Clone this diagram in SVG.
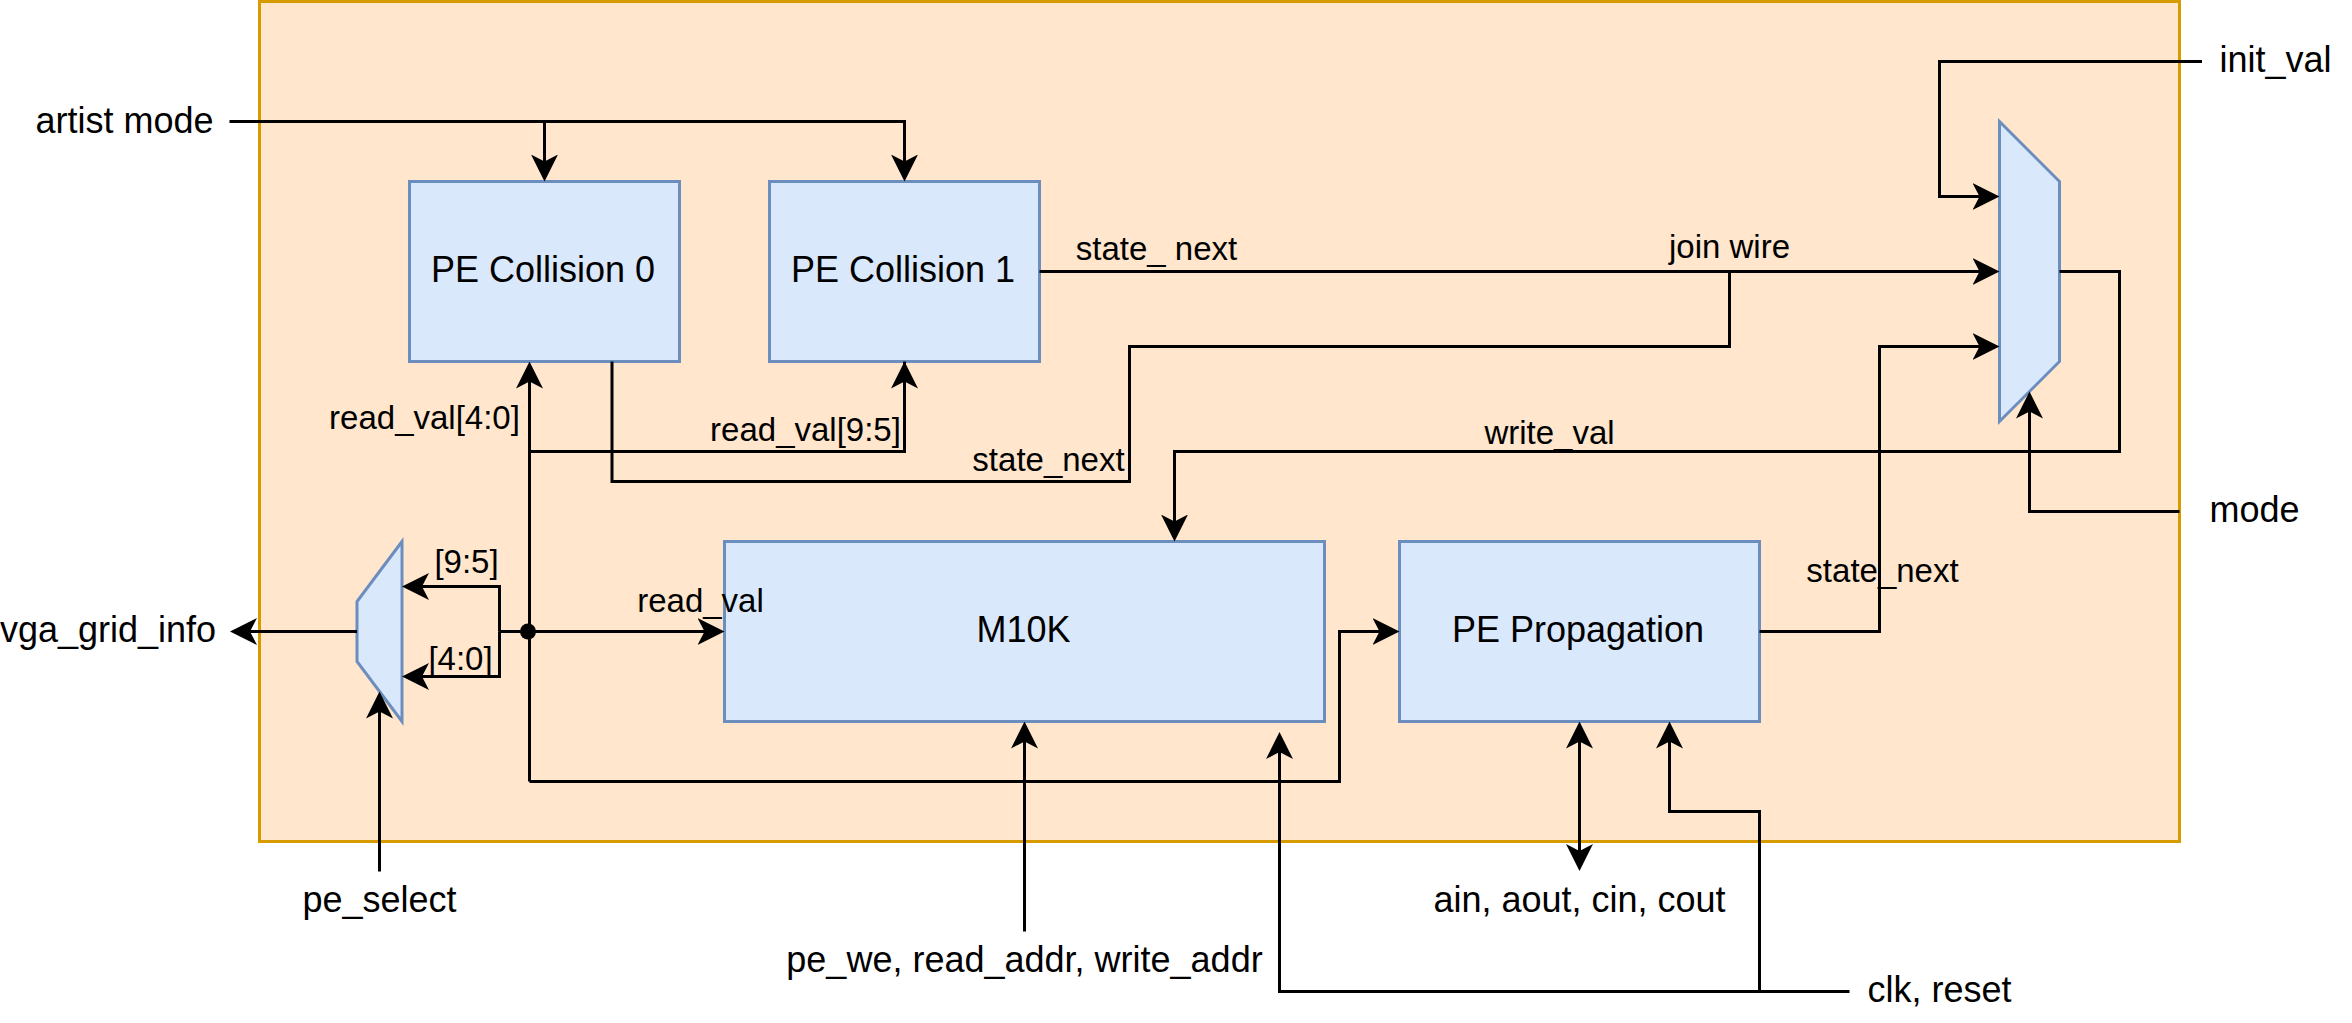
<svg xmlns="http://www.w3.org/2000/svg" width="2352" height="1023" viewBox="0 0 2352 1023">
<style>
text{font-family:"Liberation Sans",Arial,sans-serif;font-size:36px;fill:#000;text-anchor:middle}
.e{font-size:33px}
.box{fill:#dae8fc;stroke:#6c8ebf;stroke-width:3}
.w{fill:none;stroke:#000;stroke-width:3;stroke-linejoin:miter}
.a{marker-end:url(#arr)}
.b{marker-end:url(#arr);marker-start:url(#arr)}
</style>
<defs>
<marker id="arr" markerUnits="userSpaceOnUse" viewBox="0 0 27 27" markerWidth="27" markerHeight="27" refX="17" refY="13.5" orient="auto-start-reverse"><path d="M0 0L27 13.5L0 27L7 13.5Z" fill="#000"/></marker>
</defs>
<rect width="2352" height="1023" fill="#fff"/>
<g id="container"><rect x="259.5" y="1.5" width="1920" height="840" fill="#ffe6cc" stroke="#d79b00" stroke-width="3"/></g>
<g id="pe-collision-0"><rect class="box" x="409.5" y="181.5" width="270" height="180"/><text x="543" y="282">PE Collision 0</text></g>
<g id="pe-collision-1"><rect class="box" x="769.5" y="181.5" width="270" height="180"/><text x="903" y="282">PE Collision 1</text></g>
<g id="m10k"><rect class="box" x="724.5" y="541.5" width="600" height="180"/><text x="1023.5" y="642">M10K</text></g>
<g id="pe-propagation"><rect class="box" x="1399.5" y="541.5" width="360" height="180"/><text x="1578" y="642">PE Propagation</text></g>
<g id="mux-right"><polygon class="box" points="1999.5,121.5 2059.5,181.5 2059.5,361.5 1999.5,421.5"/></g>
<g id="mux-left"><polygon class="box" points="402,541.5 357,601.5 357,661.5 402,721.5"/></g>
<g id="connectors">
<path class="w a" d="M229.5 121.5H904.5V171.5"/>
<path class="w a" d="M544.5 121.5V171.5"/>
<path class="w a" d="M1039.5 271.5H1989.5"/>
<path class="w" d="M1729.5 271.5V346.5H1129.5V481.5H612V361.5"/>
<path class="w" d="M529.5 451.5H904.5V361.5"/>
<path class="w a" d="M904.5 451.5V371.5"/>
<path class="w a" d="M529.5 781.5V371.5"/>
<path class="w a" d="M499.5 631.5H714.5"/>
<path class="w a" d="M499.5 631.5V586.5H412"/>
<path class="w a" d="M499.5 631.5V676.5H412"/>
<path class="w a" d="M529.5 781.5H1339.5V631.5H1389.5"/>
<path class="w a" d="M357 631.5H240"/>
<path class="w a" d="M379.5 871.5V701.5"/>
<path class="w a" d="M1024.5 931.5V731.5"/>
<path class="w a" d="M1849.5 991.5H1279.5V742"/>
<path class="w a" d="M1759.5 991.5V811.5H1669.5V731.5"/>
<path class="w b" d="M1579.5 731.5V861"/>
<path class="w a" d="M1759.5 631.5H1879.5V346.5H1989.5"/>
<path class="w a" d="M2059.5 271.5H2119.5V451.5H1174.5V531.5"/>
<path class="w a" d="M2202 61.5H1939.5V196.5H1989.5"/>
<path class="w a" d="M2179.5 511.5H2029.5V401.5"/>
<ellipse cx="528" cy="631.5" rx="8" ry="8" fill="#000"/>
</g>
<g id="labels">
<text x="124.5" y="133">artist mode</text>
<text class="e" x="424.5" y="429">read_val[4:0]</text>
<text class="e" x="805.5" y="441">read_val[9:5]</text>
<text class="e" x="1156.5" y="260">state_ next</text>
<text class="e" x="1729.5" y="258">join wire</text>
<text class="e" x="1048.5" y="471">state_next</text>
<text class="e" x="1549.5" y="444">write_val</text>
<text class="e" x="466.5" y="573">[9:5]</text>
<text class="e" x="460.5" y="670">[4:0]</text>
<text class="e" x="700.5" y="612">read_val</text>
<text x="108" y="642">vga_grid_info</text>
<text class="e" x="1882.5" y="582">state_next</text>
<text x="379.5" y="912">pe_select</text>
<text x="1024.5" y="972">pe_we, read_addr, write_addr</text>
<text x="1579.5" y="912">ain, aout, cin, cout</text>
<text x="1939.5" y="1002">clk, reset</text>
<text x="2275.5" y="72">init_val</text>
<text x="2254.5" y="522">mode</text>
</g>
</svg>
